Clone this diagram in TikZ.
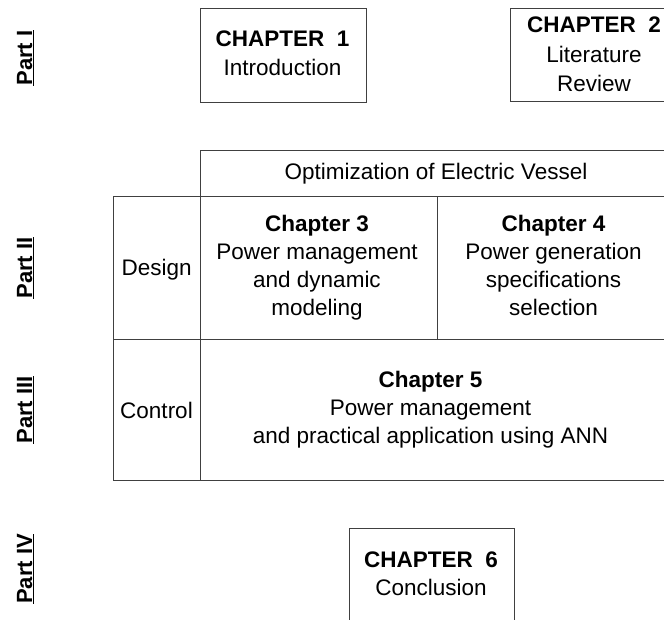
\documentclass[tikz,border=0pt]{standalone}
\usepackage{fontspec}
\setmainfont{Liberation Sans}
\begin{document}
\begin{tikzpicture}[x=1pt,y=-1pt,
  box/.style={draw=black!75,line width=0.8pt},
  txt/.style={align=center,inner sep=0pt,font=\fontsize{22.5}{28}\selectfont},
  wide/.style={font=\fontsize{22.5}{29.5}\selectfont},
  part/.style={rotate=90,anchor=base,inner sep=0pt,font=\fontsize{22}{26}\selectfont\bfseries}]
\useasboundingbox (0,0) rectangle (664,619);
% chapters of part I
\draw[box] (200,8) rectangle (366,102);
\node[txt,wide] (ch1) at (282.5,53.5) {\textbf{CHAPTER\ \ 1}\\Introduction};
\draw[box] (664.5,8) -- (510,8) -- (510,101) -- (664.5,101);
\node[txt,wide] (ch2) at (594,54.5) {\textbf{CHAPTER\ \ 2}\\Literature\\Review};
% central table: design and control
\draw[box] (200,150) -- (664,150);
\draw[box] (113,196.5) -- (664,196.5);
\draw[box] (113,339) -- (664,339);
\draw[box] (113,480) -- (664,480);
\draw[box] (200,150) -- (200,480);
\draw[box] (113,196.5) -- (113,480);
\draw[box] (437,196.5) -- (437,339);
\node[txt] (opt) at (436,173.4) {Optimization of Electric Vessel};
\node[txt] (design) at (156.7,269.3) {Design};
\node[txt] (ch3) at (317,267.8) {\textbf{Chapter 3}\\Power management\\and dynamic\\modeling};
\node[txt] (ch4) at (553.5,265.3) {\textbf{Chapter 4}\\Power generation\\specifications\\selection};
\node[txt] (control) at (156.5,410) {Control};
\node[txt] (ch5) at (430.5,409.2) {\textbf{Chapter 5}\\Power management\\and practical application using ANN};
% chapter of part IV
\draw[box] (349,620) -- (349,528) -- (514,528) -- (514,620);
\node[txt] (ch6) at (431,573.3) {\textbf{CHAPTER\ \ 6}\\Conclusion};
% part labels
\node[part] (p1) at (32,58) {\underline{Part I}};
\node[part] (p2) at (32,268) {\underline{Part II}};
\node[part] (p3) at (32,410) {\underline{Part III}};
\node[part] (p4) at (32,569) {\underline{Part IV}};
\end{tikzpicture}
\end{document}
